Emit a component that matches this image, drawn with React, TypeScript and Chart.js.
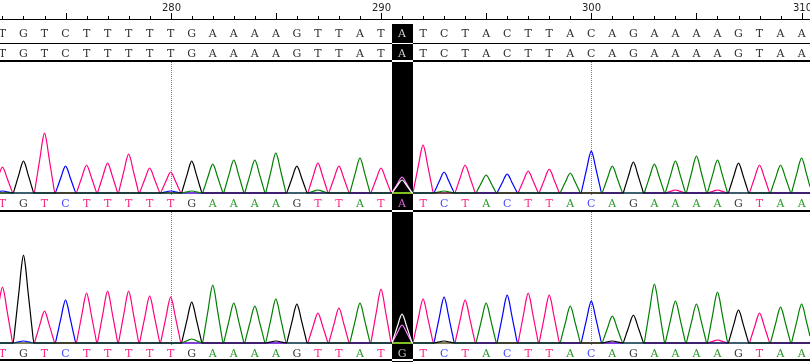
import React, { useEffect, useRef } from "react";
import { Chart, registerables } from "chart.js";

Chart.register(...registerables);

// ---------- data ----------
const FIRST_POS = 272;
const RULER_LABEL_STEP = 10;
const RULER_MAJOR_STEP = 5;
const GUIDE_STEP = 20;
const HIGHLIGHT_POS = 291;

const CALLS_TOP: string[] = "TGTCTTTTTGAAAAGTTATATCTACTTACAGAAAAGTAA".split("");
const CALLS_BOTTOM: string[] = "TGTCTTTTTGAAAAGTTATGTCTACTTACAGAAAAGTAA".split("");

// main peak height of the called base at each position (272..310)
const TRACE1_PEAKS: number[] = [
  26, 32, 60, 27, 28, 30, 39, 25, 21, 32, 29, 33, 33, 40, 27, 30, 27, 35, 25, 16,
  48, 21, 28, 18, 19, 22, 24, 20, 42, 27, 31, 29, 32, 37, 33, 30, 28, 28, 35,
];
const TRACE2_PEAKS: number[] = [
  56, 88, 32, 43, 50, 52, 52, 47, 46, 41, 58, 40, 37, 44, 39, 30, 35, 40, 54, 29,
  44, 46, 43, 40, 48, 50, 48, 37, 42, 27, 28, 59, 42, 39, 51, 33, 30, 36, 39,
];
// secondary (minor) peaks: [position, base, height]
const TRACE1_MINOR: [number, string, number][] = [
  [272, "C", 2], [280, "C", 2], [281, "A", 2], [287, "A", 3], [291, "G", 13],
  [293, "A", 2], [304, "T", 3], [306, "T", 3],
];
const TRACE2_MINOR: [number, string, number][] = [
  [273, "C", 2], [281, "A", 4], [285, "G", 2], [291, "A", 18], [293, "G", 2],
  [301, "G", 2], [306, "T", 3],
];

const BASES = ["G", "A", "C", "T"];
const TRACE_COLORS: Record<string, string> = {
  A: "#008000",
  C: "#0000ff",
  G: "#000000",
  T: "#ff0080",
};
const LETTER_COLORS: Record<string, string> = {
  A: "#2a982a",
  C: "#4b4bff",
  G: "#383838",
  T: "#ff2585",
};
// relative peak profile sampled every 0.1 base from -0.5 to +0.5
const PEAK_PROFILE = [0, 0.18, 0.4, 0.62, 0.86, 1, 0.86, 0.62, 0.4, 0.18, 0];

// ---------- layout ----------
const W = 810;
const H = 362;
const PX_PER_BASE = 21.03;
const PX_OF_280 = 170.7;
const X_MIN = 280 - PX_OF_280 / PX_PER_BASE;
const X_MAX = X_MIN + W / PX_PER_BASE;
const BASE1 = 193;
const BASE2 = 343;

function buildChannel(calls: string[], peaks: number[], minor: [number, string, number][], base: string) {
  const start = FIRST_POS - 1;
  const n = (calls.length + 2) * 10;
  const vals = new Array(n + 1).fill(0);
  const add = (pos: number, h: number) => {
    const c = Math.round((pos - start) * 10);
    for (let j = 0; j < PEAK_PROFILE.length; j++) {
      const g = c - 5 + j;
      if (g >= 0 && g <= n) vals[g] = Math.max(vals[g], h * PEAK_PROFILE[j]);
    }
  };
  calls.forEach((b, i) => {
    if (b === base) add(FIRST_POS + i, peaks[i]);
  });
  minor.forEach(([p, b, h]) => {
    if (b === base) add(p, h);
  });
  return vals.map((v, g) => ({ x: start + g / 10, y: v }));
}

const decor = {
  id: "decor",
  beforeDraw(chart: any) {
    const ctx = chart.ctx;
    ctx.save();
    ctx.fillStyle = "#ffffff";
    ctx.fillRect(0, 0, W, H);
    ctx.restore();
  },
  beforeDatasetsDraw(chart: any) {
    const ctx = chart.ctx;
    const xs = chart.scales.x;
    ctx.save();
    // ruler
    ctx.fillStyle = "#000";
    ctx.fillRect(0, 19, W, 1);
    for (let p = FIRST_POS - 1; p <= FIRST_POS + CALLS_TOP.length + 1; p++) {
      const x = Math.round(xs.getPixelForValue(p));
      if (p % RULER_MAJOR_STEP === 0) ctx.fillRect(x, 13, 1, 6);
      else ctx.fillRect(x, 16, 1, 3);
      if (p % RULER_LABEL_STEP === 0) {
        ctx.font = "10px 'DejaVu Sans'";
        ctx.textAlign = "center";
        ctx.textBaseline = "alphabetic";
        ctx.fillStyle = "#222";
        ctx.fillText(String(p), x + 0.5, 10.5);
        ctx.fillStyle = "#000";
      }
    }
    // separator lines
    ctx.fillRect(0, 43, W, 1);
    ctx.fillRect(0, 60, W, 2);
    ctx.fillRect(0, 210, W, 2);
    ctx.fillRect(0, 359, W, 2);
    // letters
    ctx.font = "11px 'DejaVu Serif'";
    ctx.textAlign = "center";
    ctx.textBaseline = "alphabetic";
    CALLS_TOP.forEach((b, i) => {
      const x = xs.getPixelForValue(FIRST_POS + i);
      ctx.fillStyle = "#303030";
      ctx.fillText(b, x, 37);
      ctx.fillText(b, x, 57);
      ctx.fillStyle = LETTER_COLORS[b];
      ctx.fillText(b, x, 207);
      ctx.fillStyle = LETTER_COLORS[CALLS_BOTTOM[i]];
      ctx.fillText(CALLS_BOTTOM[i], x, 357);
    });
    // dotted guides
    ctx.fillStyle = "#2a9ad8";
    for (let p = FIRST_POS; p <= FIRST_POS + CALLS_TOP.length; p++) {
      if (p % GUIDE_STEP !== 0) continue;
      const x = Math.round(xs.getPixelForValue(p));
      for (let y = 62; y < 196; y += 2) ctx.fillRect(x, y, 1, 1);
      for (let y = 212; y < 346; y += 2) ctx.fillRect(x, y, 1, 1);
    }
    ctx.restore();
  },
  afterDraw(chart: any) {
    const ctx = chart.ctx;
    const xs = chart.scales.x;
    const x0 = Math.round(xs.getPixelForValue(HIGHLIGHT_POS - 0.5));
    const x1 = Math.round(xs.getPixelForValue(HIGHLIGHT_POS + 0.5));
    ctx.save();
    ctx.globalCompositeOperation = "difference";
    ctx.fillStyle = "#ffffff";
    ctx.fillRect(x0, 24, x1 - x0, H - 24);
    ctx.restore();
  },
};

export default function App() {
  const ref = useRef<HTMLCanvasElement | null>(null);
  useEffect(() => {
    if (!ref.current) return;
    const datasets: any[] = [];
    BASES.forEach((b) => {
      datasets.push({
        label: "1-" + b,
        data: buildChannel(CALLS_TOP, TRACE1_PEAKS, TRACE1_MINOR, b),
        borderColor: TRACE_COLORS[b],
        yAxisID: "y1",
      });
      datasets.push({
        label: "2-" + b,
        data: buildChannel(CALLS_BOTTOM, TRACE2_PEAKS, TRACE2_MINOR, b),
        borderColor: TRACE_COLORS[b],
        yAxisID: "y2",
      });
    });
    const chart = new Chart(ref.current, {
      type: "line",
      data: { datasets },
      options: {
        animation: false,
        responsive: false,
        maintainAspectRatio: false,
        devicePixelRatio: 1,
        events: [],
        layout: { padding: 0 },
        plugins: { legend: { display: false }, tooltip: { enabled: false } },
        elements: {
          point: { radius: 0 },
          line: { borderWidth: 1.2, tension: 0, fill: false, cubicInterpolationMode: "monotone" },
        },
        scales: {
          x: { type: "linear", min: X_MIN, max: X_MAX, display: false },
          y1: { type: "linear", min: BASE1 - H, max: BASE1, display: false },
          y2: { type: "linear", min: BASE2 - H, max: BASE2, display: false },
        },
      },
      plugins: [decor],
    } as any);
    return () => chart.destroy();
  }, []);
  return (
    <div style={{ position: "fixed", left: 0, top: 0, width: W, height: H, background: "#fff" }}>
      <canvas ref={ref} width={W} height={H} style={{ display: "block", width: W, height: H }} />
    </div>
  );
}
